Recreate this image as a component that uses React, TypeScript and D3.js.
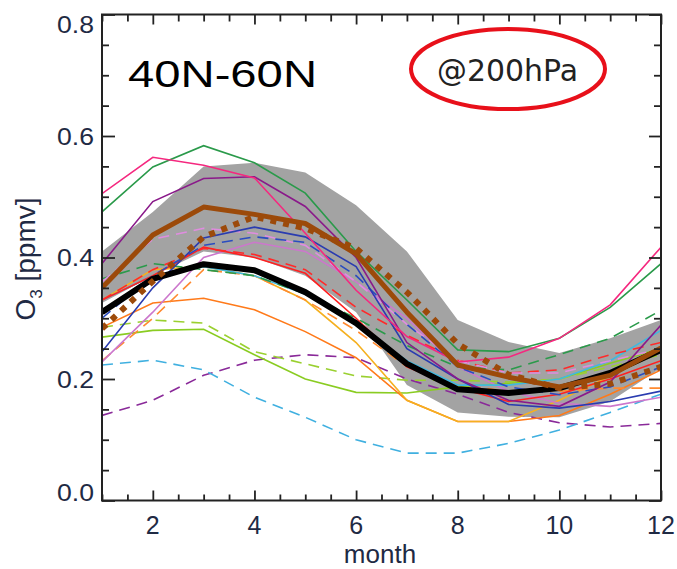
import React, { useEffect, useRef } from 'react';
import * as d3 from 'd3';

// months on the x axis
const months = [1, 2, 3, 4, 5, 6, 7, 8, 9, 10, 11, 12];
const xTickLabels = [2, 4, 6, 8, 10, 12];
const yTickLabels = [0.0, 0.2, 0.4, 0.6, 0.8];

// observed range (gray band)
const bandUpper = [0.41, 0.475, 0.55, 0.556, 0.54, 0.486, 0.41, 0.297, 0.261, 0.243, 0.267, 0.297];
const bandLower = [0.325, 0.37, 0.41, 0.4, 0.37, 0.31, 0.19, 0.145, 0.138, 0.137, 0.163, 0.218];

// thick lines
const meanBlack = [0.31, 0.365, 0.389, 0.379, 0.343, 0.292, 0.225, 0.183, 0.177, 0.185, 0.21, 0.248];
const brownSolid = [0.35, 0.437, 0.483, 0.471, 0.456, 0.406, 0.31, 0.223, 0.203, 0.187, 0.206, 0.251];
const brownDotted = [0.283, 0.361, 0.434, 0.467, 0.448, 0.415, 0.343, 0.258, 0.207, 0.185, 0.192, 0.22];

// thin model lines
const pinkSolid = [0.505, 0.565, 0.552, 0.531, 0.44, 0.346, 0.27, 0.228, 0.236, 0.267, 0.322, 0.417];
const greenSolid = [0.475, 0.549, 0.584, 0.556, 0.506, 0.41, 0.33, 0.248, 0.245, 0.267, 0.318, 0.39];
const purpleSolid = [0.39, 0.492, 0.53, 0.533, 0.484, 0.4, 0.26, 0.2, 0.165, 0.155, 0.195, 0.289];
const blueSolid = [0.245, 0.35, 0.432, 0.45, 0.434, 0.385, 0.25, 0.2, 0.158, 0.152, 0.163, 0.18];
const blueDashed = [0.3, 0.37, 0.42, 0.434, 0.425, 0.37, 0.29, 0.22, 0.187, 0.174, 0.187, 0.22];
const violetDashed = [0.36, 0.43, 0.448, 0.44, 0.42, 0.36, 0.29, 0.23, 0.21, 0.21, 0.23, 0.25];
const violetSolid = [0.228, 0.31, 0.4, 0.425, 0.41, 0.36, 0.3, 0.22, 0.18, 0.16, 0.155, 0.17];
const redSolid = [0.33, 0.37, 0.417, 0.4, 0.374, 0.3, 0.22, 0.185, 0.163, 0.175, 0.2, 0.23];
const redDashed = [0.33, 0.38, 0.415, 0.405, 0.38, 0.318, 0.272, 0.231, 0.21, 0.215, 0.24, 0.26];
const orangeSolid = [0.285, 0.325, 0.333, 0.314, 0.278, 0.235, 0.165, 0.13, 0.13, 0.14, 0.175, 0.215];
const goldSolid = [0.33, 0.38, 0.385, 0.37, 0.33, 0.26, 0.165, 0.13, 0.13, 0.165, 0.205, 0.245];
const orangeDashed = [0.23, 0.3, 0.38, 0.37, 0.33, 0.28, 0.22, 0.19, 0.18, 0.18, 0.185, 0.185];
const greenDashed = [0.365, 0.39, 0.38, 0.37, 0.34, 0.3, 0.255, 0.22, 0.215, 0.24, 0.267, 0.313];
const limeSolid = [0.269, 0.28, 0.282, 0.24, 0.2, 0.178, 0.177, 0.187, 0.193, 0.2, 0.226, 0.25];
const limeDashed = [0.285, 0.297, 0.292, 0.245, 0.225, 0.205, 0.198, 0.198, 0.195, 0.2, 0.22, 0.24];
const cyanDashed = [0.223, 0.231, 0.215, 0.17, 0.137, 0.1, 0.078, 0.078, 0.094, 0.116, 0.145, 0.175];
const cyanSolid = [0.33, 0.37, 0.385, 0.37, 0.34, 0.29, 0.23, 0.19, 0.19, 0.2, 0.23, 0.28];
const purpleDashed = [0.14, 0.165, 0.206, 0.231, 0.24, 0.235, 0.2, 0.175, 0.145, 0.128, 0.121, 0.127];

const App = () => {
  const svgRef = useRef<SVGSVGElement>(null);

  useEffect(() => {
    const svg = d3.select(svgRef.current);
    svg.selectAll("*").remove();

    const W = 677, H = 569;
    const left = 102, right = 661, top = 14.5, bottom = 500.5;
    const font = "Liberation Sans";
    const labelColor = "#1f2a44";

    const x = d3.scaleLinear().domain([1, 12]).range([left, right]);
    const y = d3.scaleLinear().domain([0, 0.8]).range([bottom, top]);

    svg.attr("width", W).attr("height", H);

    svg.append("defs").append("clipPath").attr("id", "plot-clip")
      .append("rect")
      .attr("x", left).attr("y", top)
      .attr("width", right - left).attr("height", bottom - top);

    const plot = svg.append("g").attr("clip-path", "url(#plot-clip)");

    // gray band
    const area = d3.area<number>()
      .x((d, i) => x(months[i]))
      .y0((d, i) => y(bandLower[i]))
      .y1(d => y(d));
    plot.append("path")
      .attr("d", area(bandUpper))
      .attr("fill", "#a3a3a3");

    const line = d3.line<number>()
      .x((d, i) => x(months[i]))
      .y(d => y(d));

    const dash = "11,7";
    const thin = [
      { values: purpleDashed, color: "#8a2a99", dash },
      { values: cyanDashed, color: "#40b0e0", dash },
      { values: limeSolid, color: "#8acc22", dash: null },
      { values: limeDashed, color: "#9ad030", dash },
      { values: orangeSolid, color: "#ff7a1a", dash: null },
      { values: goldSolid, color: "#f5b020", dash: null },
      { values: orangeDashed, color: "#ff8a30", dash },
      { values: violetSolid, color: "#cc77cc", dash: null },
      { values: cyanSolid, color: "#40b8e0", dash: null },
      { values: greenDashed, color: "#2a9a4a", dash },
      { values: redSolid, color: "#ff2020", dash: null },
      { values: redDashed, color: "#ff2a2a", dash },
      { values: violetDashed, color: "#e08ce0", dash },
      { values: blueDashed, color: "#2a4cc0", dash },
      { values: blueSolid, color: "#2a3cb0", dash: null },
      { values: purpleSolid, color: "#8a1a8a", dash: null },
      { values: greenSolid, color: "#2a9a4a", dash: null },
      { values: pinkSolid, color: "#f5287f", dash: null },
    ];

    thin.forEach(s => {
      plot.append("path")
        .attr("d", line(s.values))
        .attr("fill", "none")
        .attr("stroke", s.color)
        .attr("stroke-width", 1.6)
        .attr("stroke-dasharray", s.dash);
    });

    // thick lines
    plot.append("path")
      .attr("d", line(meanBlack))
      .attr("fill", "none")
      .attr("stroke", "#000")
      .attr("stroke-width", 6)
      .attr("stroke-linejoin", "round");

    plot.append("path")
      .attr("d", line(brownSolid))
      .attr("fill", "none")
      .attr("stroke", "#9c4a0a")
      .attr("stroke-width", 5)
      .attr("stroke-linejoin", "round");

    plot.append("path")
      .attr("d", line(brownDotted))
      .attr("fill", "none")
      .attr("stroke", "#9c4a0a")
      .attr("stroke-width", 6)
      .attr("stroke-dasharray", "6,7");

    // axis ticks (inward, all four sides)
    const xMinor = d3.range(1, 12.01, 0.5).filter(v => !xTickLabels.includes(v));
    const yMinor = d3.range(0, 0.801, 0.05).filter(v => !yTickLabels.some(t => Math.abs(t - v) < 1e-6));

    const axes = svg.append("g");
    axes.append("g").attr("transform", `translate(0,${bottom})`)
      .call(d3.axisBottom(x).tickValues(xTickLabels).tickSize(-10).tickSizeOuter(0).tickFormat(() => ""));
    axes.append("g").attr("transform", `translate(0,${bottom})`)
      .call(d3.axisBottom(x).tickValues(xMinor).tickSize(-6).tickSizeOuter(0).tickFormat(() => ""));
    axes.append("g").attr("transform", `translate(0,${top})`)
      .call(d3.axisTop(x).tickValues(xTickLabels).tickSize(-10).tickSizeOuter(0).tickFormat(() => ""));
    axes.append("g").attr("transform", `translate(0,${top})`)
      .call(d3.axisTop(x).tickValues(xMinor).tickSize(-7).tickSizeOuter(0).tickFormat(() => ""));
    axes.append("g").attr("transform", `translate(${left},0)`)
      .call(d3.axisLeft(y).tickValues(yTickLabels).tickSize(-13).tickSizeOuter(0).tickFormat(() => ""));
    axes.append("g").attr("transform", `translate(${left},0)`)
      .call(d3.axisLeft(y).tickValues(yMinor).tickSize(-7).tickSizeOuter(0).tickFormat(() => ""));
    axes.append("g").attr("transform", `translate(${right},0)`)
      .call(d3.axisRight(y).tickValues(yTickLabels).tickSize(-12).tickSizeOuter(0).tickFormat(() => ""));
    axes.append("g").attr("transform", `translate(${right},0)`)
      .call(d3.axisRight(y).tickValues(yMinor).tickSize(-7).tickSizeOuter(0).tickFormat(() => ""));
    axes.selectAll(".domain").remove();
    axes.selectAll(".tick line").attr("stroke", "#222").attr("stroke-width", 1.8);

    svg.append("rect")
      .attr("x", left).attr("y", top)
      .attr("width", right - left).attr("height", bottom - top)
      .attr("fill", "none")
      .attr("stroke", "#222")
      .attr("stroke-width", 2);

    // tick labels
    svg.append("g").selectAll("text")
      .data(yTickLabels)
      .enter().append("text")
      .attr("x", 94)
      .attr("y", d => Math.min(492, Math.max(24, y(d))) + 8.5)
      .attr("text-anchor", "end")
      .style("font-family", font)
      .attr("font-size", 24)
      .attr("fill", labelColor)
      .attr("textLength", 37)
      .attr("lengthAdjust", "spacingAndGlyphs")
      .text(d => d.toFixed(1));

    svg.append("g").selectAll("text")
      .data(xTickLabels)
      .enter().append("text")
      .attr("x", d => x(d))
      .attr("y", 534)
      .attr("text-anchor", "middle")
      .style("font-family", font)
      .attr("font-size", 25)
      .attr("fill", labelColor)
      .text(d => d);

    svg.append("text")
      .attr("x", 380)
      .attr("y", 563)
      .attr("text-anchor", "middle")
      .style("font-family", font)
      .attr("font-size", 26)
      .attr("fill", labelColor)
      .text("month");

    const yLabel = svg.append("text")
      .attr("transform", "translate(35,259) rotate(-90)")
      .attr("text-anchor", "middle")
      .style("font-family", font)
      .attr("font-size", 28)
      .attr("fill", labelColor);
    yLabel.append("tspan").text("O");
    yLabel.append("tspan").attr("font-size", 17).attr("dy", 7).text("3");
    yLabel.append("tspan").attr("dy", -7).text(" [ppmv]");

    // region label
    svg.append("text")
      .attr("x", 128)
      .attr("y", 87)
      .style("font-family", font)
      .attr("font-size", 36)
      .attr("fill", "#000")
      .attr("textLength", 189)
      .attr("lengthAdjust", "spacingAndGlyphs")
      .text("40N-60N");

    // pressure level annotation
    svg.append("ellipse")
      .attr("cx", 508).attr("cy", 69)
      .attr("rx", 97).attr("ry", 40)
      .attr("fill", "none")
      .attr("stroke", "#e8101a")
      .attr("stroke-width", 4);

    svg.append("text")
      .attr("x", 437)
      .attr("y", 81)
      .style("font-family", "DejaVu Sans")
      .attr("font-size", 30)
      .attr("fill", "#222")
      .attr("textLength", 141)
      .attr("lengthAdjust", "spacingAndGlyphs")
      .text("@200hPa");
  }, []);

  return (
    <div style={{ position: 'absolute', left: 0, top: 0, background: 'white' }}>
      <svg ref={svgRef} style={{ display: 'block' }}></svg>
    </div>
  );
};

export default App;
